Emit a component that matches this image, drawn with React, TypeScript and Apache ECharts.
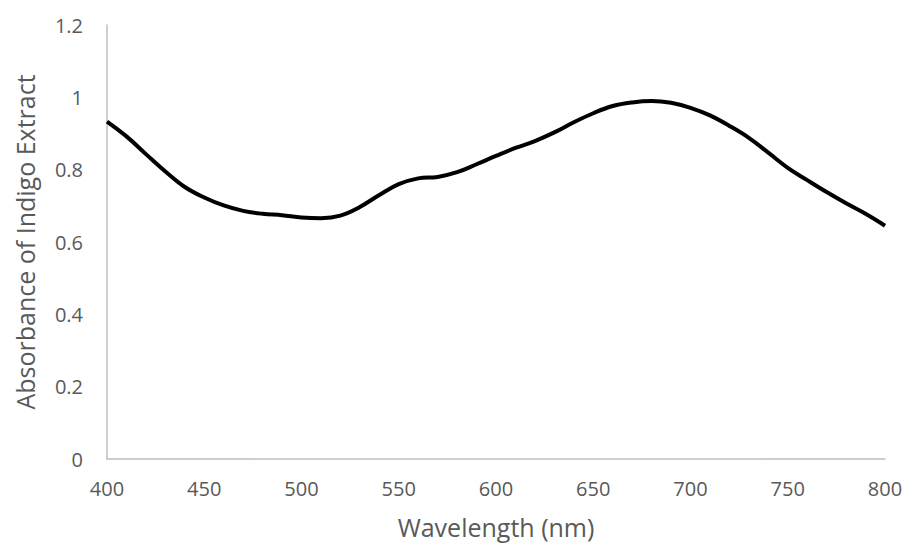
import React, { useEffect, useRef } from "react";
import * as echarts from "echarts";

// Absorbance spectrum of the indigo extract, sampled every 10 nm
const wavelengths: number[] = [
  400, 410, 420, 430, 440, 450, 460, 470, 480, 490,
  500, 510, 520, 530, 540, 550, 560, 570, 580, 590,
  600, 610, 620, 630, 640, 650, 660, 670, 680, 690,
  700, 710, 720, 730, 740, 750, 760, 770, 780, 790, 800,
];
const absorbance: number[] = [
  0.933, 0.892, 0.843, 0.795, 0.752, 0.723, 0.701, 0.686, 0.678, 0.674,
  0.668, 0.666, 0.673, 0.697, 0.73, 0.76, 0.776, 0.78, 0.793, 0.815,
  0.838, 0.86, 0.879, 0.903, 0.931, 0.956, 0.976, 0.986, 0.99, 0.985,
  0.971, 0.95, 0.921, 0.888, 0.847, 0.805, 0.771, 0.738, 0.707, 0.678, 0.645,
];

const xTitle = "Wavelength (nm)";
const yTitle = "Absorbance of Indigo Extract";

const FONT = "'Open Sans', 'Noto Sans', sans-serif";
const TEXT = "#595959";
const AXIS = "#bfbfbf";

export default function App() {
  const ref = useRef<HTMLDivElement>(null);

  useEffect(() => {
    if (!ref.current) return;
    const chart = echarts.init(ref.current, undefined, { renderer: "svg" });
    chart.setOption({
      animation: false,
      backgroundColor: "#ffffff",
      grid: { left: 107, right: 21, top: 25, bottom: 87, containLabel: false },
      xAxis: {
        type: "value",
        min: 400,
        max: 800,
        interval: 50,
        name: xTitle,
        nameLocation: "middle",
        nameGap: 55,
        nameTextStyle: { fontFamily: FONT, fontSize: 25, color: TEXT },
        axisLine: { show: true, lineStyle: { color: AXIS, width: 1.5 } },
        axisTick: { show: false },
        splitLine: { show: false },
        axisLabel: { fontFamily: FONT, fontSize: 20, color: TEXT, margin: 19 },
      },
      yAxis: {
        type: "value",
        min: 0,
        max: 1.2,
        interval: 0.2,
        name: yTitle,
        nameLocation: "middle",
        nameGap: 70,
        nameTextStyle: { fontFamily: FONT, fontSize: 25, color: TEXT },
        axisLine: { show: true, lineStyle: { color: AXIS, width: 1.5 } },
        axisTick: { show: false },
        splitLine: { show: false },
        axisLabel: {
          fontFamily: FONT,
          fontSize: 20,
          color: TEXT,
          margin: 24,
          formatter: (v: number) => String(Math.round(v * 10) / 10),
        },
      },
      series: [
        {
          type: "line",
          data: wavelengths.map((w, i) => [w, absorbance[i]]),
          smooth: 0.4,
          showSymbol: false,
          lineStyle: { color: "#000000", width: 4 },
        },
      ],
    });
    return () => chart.dispose();
  }, []);

  return (
    <div
      ref={ref}
      style={{ position: "fixed", left: 0, top: 0, width: 906, height: 546, overflow: "hidden" }}
    />
  );
}
